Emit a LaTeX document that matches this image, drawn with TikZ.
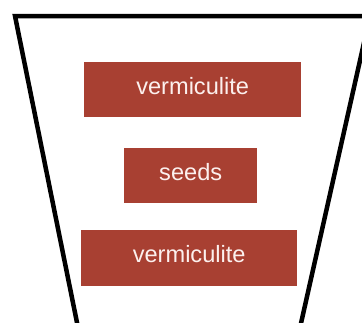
\documentclass[tikz,border=0pt]{standalone}
\usepackage{fontspec}
\setmainfont{Liberation Sans}
\definecolor{brick}{RGB}{168,64,50}
\definecolor{paletext}{RGB}{252,240,238}
\begin{document}
\begin{tikzpicture}[x=1pt,y=-1pt,
  layer/.style={fill=brick, draw=none, text=paletext, inner sep=0pt,
    font=\fontsize{23.6}{28}\selectfont, anchor=north west,
    text height=17pt, text depth=8pt},
  potline/.style={line width=4.5pt, black, line cap=butt, line join=miter}]
\useasboundingbox (0,0) rectangle (362,322);
\clip (0,0) rectangle (362,322);
\coordinate (tl) at (15,16);
\coordinate (tr) at (372,16);
\coordinate (bl) at (78.5,330);
\coordinate (rtop) at (370,16);
\coordinate (br) at (299.5,330);
\draw[potline] (bl) -- (tl) -- (tr);
\draw[potline] (rtop) -- (br);
\node[layer, minimum width=217pt, minimum height=55pt] (v1) at (84,62) {vermiculite};
\node[layer, minimum width=133pt, minimum height=55pt] (s) at (124,148) {seeds};
\node[layer, minimum width=216pt, minimum height=56pt] (v2) at (81,230) {vermiculite};
\end{tikzpicture}
\end{document}
